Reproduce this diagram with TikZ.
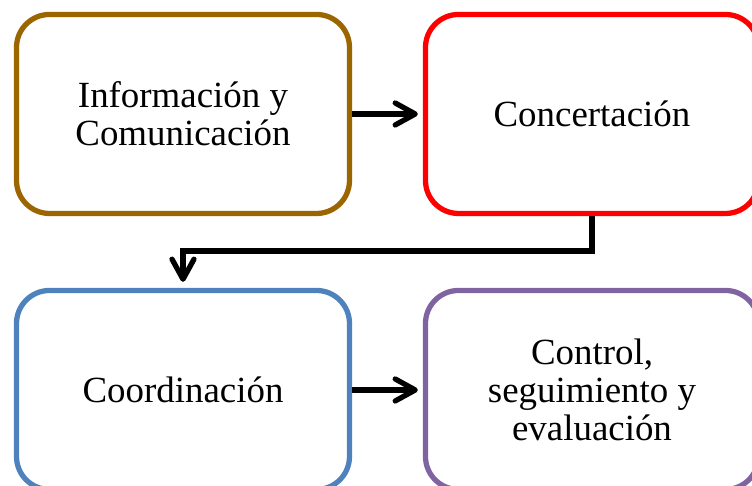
\documentclass[tikz,border=0pt]{standalone}
\usepackage{fontspec}
\setmainfont{Liberation Serif}
\usetikzlibrary{arrows.meta}
\definecolor{cafe}{RGB}{155,102,0}
\definecolor{azul}{RGB}{79,129,189}
\definecolor{morado}{RGB}{128,100,162}
\tikzset{etapa/.style={draw=#1, line width=1.5pt, rounded corners=0.33cm, minimum width=3.33cm, minimum height=1.99cm, align=center, font=\fontsize{10.5}{10.8}\selectfont} }
\tikzset{flecha/.style={line width=1.5pt, -{Straight Barb[length=2mm,width=2.2mm,round]}} }

\begin{document}
\begin{tikzpicture}
            \useasboundingbox (0,0) rectangle (7.52,4.86);
            \clip (0,0) rectangle (7.52,4.86);
            \node [etapa=cafe] (info) at (1.83,3.72) {Información y\\Comunicación};
            \node [etapa=red] (conc) at (5.92,3.72) {Concertación};
            \node [etapa=azul] (coord) at (1.83,0.96) {Coordinación};
            \node [etapa=morado] (ctrl) at (5.92,0.96) {Control,\\seguimiento y\\evaluación};
            \draw [flecha, shorten >=0.05cm] (info) -- (conc);
            \draw [flecha, shorten >=0.05cm] (coord) -- (ctrl);
            \draw [flecha, shorten >=0.06cm] (conc.south) -- ++(0,-0.35) -| (coord.north);
        \end{tikzpicture}
\end{document}
